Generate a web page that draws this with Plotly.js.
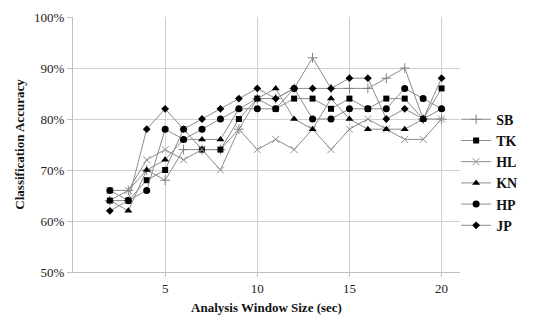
<!DOCTYPE html>
<html>
<head>
<meta charset="utf-8">
<script src="https://cdn.plot.ly/plotly-3.0.1.min.js"></script>
<style>
html,body{margin:0;padding:0;background:#fff;}
#chart{width:559px;height:320px;}
</style>
</head>
<body>
<div id="chart"></div>
<script>
var windowSizes = [2,3,4,5,6,7,8,9,10,11,12,13,14,15,16,17,18,19,20];
var seriesNames = ["SB","TK","HL","KN","HP","JP"];
var SB = [64,66,70,68,74,74,74,78,84,84,86,92,86,86,86,88,90,80,80];
var TK = [64,64,68,70,78,74,74,80,84,82,84,84,82,84,82,84,84,80,86];
var HL = [66,66,72,74,72,74,70,78,74,76,74,78,74,78,80,78,76,76,80];
var KN = [64,62,70,72,76,76,76,82,84,86,80,78,84,80,78,78,78,80,82];
var HP = [66,64,66,78,76,78,80,82,82,82,86,80,80,82,82,82,86,84,82];
var JP = [62,64,78,82,78,80,82,84,86,84,86,86,86,88,88,80,82,80,88];
var xTicks = [5,10,15,20];
var yTicks = [50,60,70,80,90,100];

var values = [SB,TK,HL,KN,HP,JP];
var markers = [
  {symbol:"cross-thin", size:7, color:"#808080", line:{color:"#808080", width:1}},
  {symbol:"square", size:6, color:"#000", line:{width:0}},
  {symbol:"x-thin", size:7, color:"#909090", line:{color:"#909090", width:1}},
  {symbol:"triangle-up", size:7, color:"#000", line:{width:0}},
  {symbol:"circle", size:7, color:"#000", line:{width:0}},
  {symbol:"diamond", size:6, color:"#000", line:{width:0}}
];

var traces = seriesNames.map(function(n,i){
  return {
    x: windowSizes, y: values[i], name: n, type: "scatter", mode: "lines+markers",
    line: {color:"#8c8c8c", width:1},
    marker: markers[i]
  };
});

var layout = {
  width:559, height:320,
  margin:{l:73, r:99, t:17, b:48},
  paper_bgcolor:"#fff", plot_bgcolor:"#fff",
  font:{family:"Liberation Serif, Times New Roman, serif", color:"#222", size:13},
  showlegend:true,
  legend:{x:0.99, xanchor:"left", y:0.66, yanchor:"top",
    font:{family:"Liberation Serif, serif", size:14, color:"#111", weight:"bold"},
    itemwidth:30, tracegroupgap:0, bgcolor:"rgba(0,0,0,0)"},
  xaxis:{
    range:[0,21], tickvals:xTicks, ticktext:xTicks.map(String),
    showgrid:true, gridcolor:"#d0d0d0", gridwidth:1,
    showline:true, linecolor:"#c0c0c0", linewidth:1,
    ticks:"outside", ticklen:4, tickcolor:"#c0c0c0",
    zeroline:false, tickfont:{size:13, color:"#222"},
    title:{text:"Analysis Window Size (sec)", font:{size:13, weight:"bold", color:"#111"}, standoff:8}
  },
  yaxis:{
    range:[50,100], tickvals:yTicks, ticktext:yTicks.map(function(v){return v+"%";}),
    showgrid:true, gridcolor:"#d0d0d0", gridwidth:1,
    showline:true, linecolor:"#c0c0c0", linewidth:1,
    ticks:"outside", ticklen:5, tickcolor:"#c0c0c0",
    zeroline:false, tickfont:{size:13, color:"#222"},
    title:{text:"Classification Accuracy", font:{size:13, weight:"bold", color:"#111"}, standoff:6}
  }
};

Plotly.newPlot("chart", traces, layout, {displayModeBar:false, staticPlot:true});
</script>
</body>
</html>
